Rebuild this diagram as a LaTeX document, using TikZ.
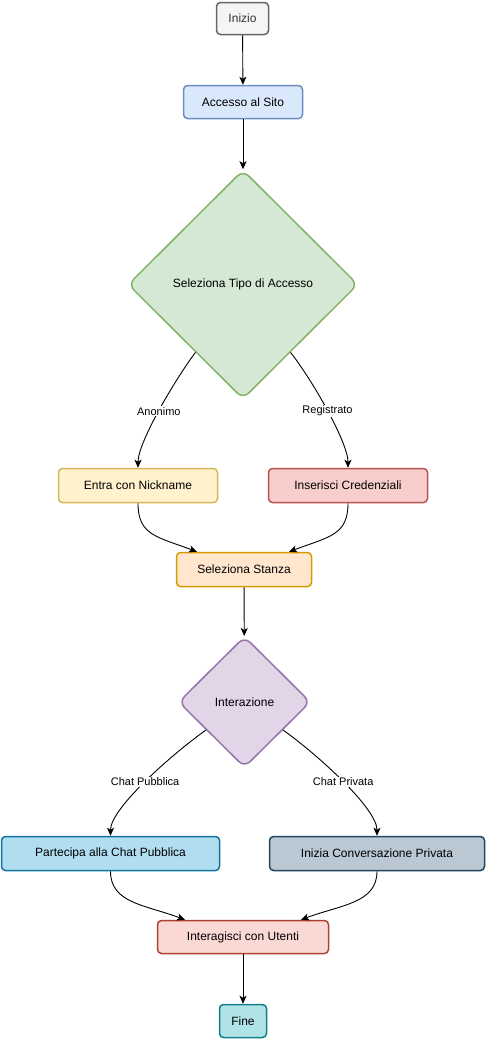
\documentclass[tikz,border=0pt]{standalone}
\usepackage{fontspec}
\setmainfont{Liberation Sans}
\usetikzlibrary{shapes.geometric,arrows.meta}
\definecolor{startFill}{HTML}{f5f5f5}
\definecolor{startLine}{HTML}{666666}
\definecolor{startText}{HTML}{333333}
\definecolor{accessFill}{HTML}{dae8fc}
\definecolor{accessLine}{HTML}{6c8ebf}
\definecolor{typeFill}{HTML}{d5e8d4}
\definecolor{typeLine}{HTML}{82b366}
\definecolor{nickFill}{HTML}{fff2cc}
\definecolor{nickLine}{HTML}{d6b656}
\definecolor{credFill}{HTML}{f8cecc}
\definecolor{credLine}{HTML}{b85450}
\definecolor{roomFill}{HTML}{ffe6cc}
\definecolor{roomLine}{HTML}{d79b00}
\definecolor{interFill}{HTML}{e1d5e7}
\definecolor{interLine}{HTML}{9673a6}
\definecolor{publicFill}{HTML}{b1ddf0}
\definecolor{publicLine}{HTML}{10739e}
\definecolor{privateFill}{HTML}{bac8d3}
\definecolor{privateLine}{HTML}{23445d}
\definecolor{usersFill}{HTML}{fad9d5}
\definecolor{usersLine}{HTML}{ae4132}
\definecolor{endFill}{HTML}{b0e3e6}
\definecolor{endLine}{HTML}{0e8088}
\tikzset{
    box/.style={draw, rounded corners=4pt, line width=1.5pt, inner sep=0pt,
        minimum height=34pt, font=\fontsize{12}{14}\selectfont},
    choice/.style={diamond, draw, rounded corners=8pt, line width=1.5pt, inner sep=0pt,
        aspect=1, font=\fontsize{12}{14}\selectfont},
    link/.style={-{Stealth[length=8pt,width=7pt,inset=2pt]}, line width=0.9pt},
    tag/.style={fill=white, inner sep=1pt, font=\fontsize{11}{13}\selectfont}
}

\begin{document}
\begin{tikzpicture}[x=1pt, y=-1pt]
            \useasboundingbox (0,0) rectangle (486,1039);

            \node[box, fill=startFill, draw=startLine, text=startText, minimum width=52pt, minimum height=32pt] (inizio) at (242.5,18.5) {Inizio};
            \node[box, fill=accessFill, draw=accessLine, minimum width=119pt, minimum height=33pt] (accesso) at (243,102) {Accesso al Sito};
            \node[choice, fill=typeFill, draw=typeLine, minimum width=230pt, minimum height=229pt] (tipo) at (243,284.5) {Seleziona Tipo di Accesso};
            \node[box, fill=nickFill, draw=nickLine, minimum width=159pt] (nick) at (138,485.5) {Entra con Nickname};
            \node[box, fill=credFill, draw=credLine, minimum width=159pt] (cred) at (348,485.5) {Inserisci Credenziali};
            \node[box, fill=roomFill, draw=roomLine, minimum width=135pt] (stanza) at (244,569.5) {Seleziona Stanza};
            \node[choice, fill=interFill, draw=interLine, minimum width=132pt, minimum height=131pt] (inter) at (244.5,702) {Interazione};
            \node[box, fill=publicFill, draw=publicLine, minimum width=218pt] (pubblica) at (110.5,853.5) {Partecipa alla Chat Pubblica};
            \node[box, fill=privateFill, draw=privateLine, minimum width=215pt] (privata) at (377,853.5) {Inizia Conversazione Privata};
            \node[box, fill=usersFill, draw=usersLine, minimum width=171pt, minimum height=33pt] (utenti) at (243,937) {Interagisci con Utenti};
            \node[box, fill=endFill, draw=endLine, minimum width=47pt, minimum height=33pt] (fine) at (243,1021) {Fine};

            \draw[link] (inizio) -- (accesso);
            \draw[link] (accesso) -- (tipo);
            \draw[link] (tipo.235) .. controls +(-21,28) and +(0,-43) .. node[tag]{Anonimo} (nick);
            \draw[link] (tipo.305) .. controls +(22,28) and +(0,-43) .. node[tag]{Registrato} (cred);
            \draw[link] (nick.south) .. controls +(0,32) and +(-40,-15) .. ([xshift=-47pt]stanza.north);
            \draw[link] (cred.south) .. controls +(0,32) and +(40,-15) .. ([xshift=45pt]stanza.north);
            \draw[link] (stanza) -- (inter);
            \draw[link] (inter.216) .. controls +(-35,25) and +(0,-45) .. node[tag]{Chat Pubblica} (pubblica);
            \draw[link] (inter.324) .. controls +(35,25) and +(0,-45) .. node[tag]{Chat Privata} (privata);
            \draw[link] (pubblica.south) .. controls +(0,32) and +(-40,-15) .. ([xshift=-58pt]utenti.north);
            \draw[link] (privata.south) .. controls +(0,32) and +(40,-15) .. ([xshift=58pt]utenti.north);
            \draw[link] (utenti) -- (fine);
        \end{tikzpicture}
\end{document}
